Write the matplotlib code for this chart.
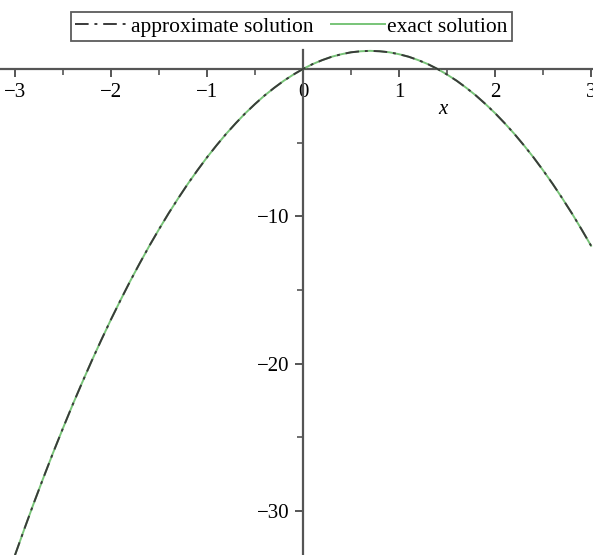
import matplotlib
matplotlib.use("Agg")
import matplotlib.pyplot as plt
from matplotlib.ticker import MultipleLocator, FixedLocator

plt.rcParams['font.family'] = ['Liberation Serif', 'DejaVu Serif']

# values
x_vals = [-3.0, -2.9, -2.8, -2.7, -2.6, -2.5, -2.4, -2.3, -2.2, -2.1,
          -2.0, -1.9, -1.8, -1.7, -1.6, -1.5, -1.4, -1.3, -1.2, -1.1,
          -1.0, -0.9, -0.8, -0.7, -0.6, -0.5, -0.4, -0.3, -0.2, -0.1,
          0.0, 0.1, 0.2, 0.3, 0.4, 0.5, 0.6, 0.7, 0.8, 0.9,
          1.0, 1.1, 1.2, 1.3, 1.4, 1.5, 1.6, 1.7, 1.8, 1.9,
          2.0, 2.1, 2.2, 2.3, 2.4, 2.5, 2.6, 2.7, 2.8, 2.9, 3.0]
y_exact = [-33.0, -31.18, -29.4, -27.68, -26.0, -24.38, -22.8, -21.28, -19.8, -18.38,
           -17.0, -15.68, -14.4, -13.18, -12.0, -10.88, -9.8, -8.78, -7.8, -6.88,
           -6.0, -5.18, -4.4, -3.68, -3.0, -2.38, -1.8, -1.28, -0.8, -0.38,
           0.0, 0.33, 0.6, 0.83, 1.0, 1.13, 1.2, 1.23, 1.2, 1.13,
           1.0, 0.83, 0.6, 0.33, 0.0, -0.38, -0.8, -1.28, -1.8, -2.38,
           -3.0, -3.68, -4.4, -5.18, -6.0, -6.88, -7.8, -8.78, -9.8, -10.88, -12.0]
y_approx = [-33.0, -31.18, -29.4, -27.68, -26.0, -24.38, -22.8, -21.28, -19.8, -18.38,
            -17.0, -15.68, -14.4, -13.18, -12.0, -10.88, -9.8, -8.78, -7.8, -6.88,
            -6.0, -5.18, -4.4, -3.68, -3.0, -2.38, -1.8, -1.28, -0.8, -0.38,
            0.0, 0.33, 0.6, 0.83, 1.0, 1.13, 1.2, 1.23, 1.2, 1.13,
            1.0, 0.83, 0.6, 0.33, 0.0, -0.38, -0.8, -1.28, -1.8, -2.38,
            -3.0, -3.68, -4.4, -5.18, -6.0, -6.88, -7.8, -8.78, -9.8, -10.88, -12.0]
x_ticks = [-3, -2, -1, 0, 1, 2, 3]
y_ticks = [-30, -20, -10]

fig = plt.figure(figsize=(5.93, 5.55), dpi=100)
ax = fig.add_axes([0, 0, 1, 1])

l2, = ax.plot(x_vals, y_exact, color='#78c478', lw=1.4, label='exact solution', zorder=3)
l1, = ax.plot(x_vals, y_approx, color='#3a3a3a', lw=1.4, ls=(0, (7, 3, 1.5, 3)),
              label='approximate solution', zorder=4)

ax.set_xlim(-3.156, 3.02)
ax.set_ylim(-32.99, 4.68)

for s in ['top', 'right']:
    ax.spines[s].set_visible(False)
for s in ['left', 'bottom']:
    ax.spines[s].set_position(('data', 0))
    ax.spines[s].set_color('#555555')
    ax.spines[s].set_linewidth(1.6)
ax.spines['left'].set_bounds(-33, 1.3)

ax.xaxis.set_major_locator(FixedLocator(x_ticks))
ax.xaxis.set_minor_locator(MultipleLocator(0.5))
ax.yaxis.set_major_locator(FixedLocator(y_ticks))
ax.yaxis.set_minor_locator(MultipleLocator(5))
ax.tick_params(axis='both', which='major', direction='out', length=6, width=1.4,
               color='#555555', labelsize=15, pad=4)
ax.tick_params(axis='both', which='minor', direction='out', length=4, width=1.2, color='#555555')
ax.set_xticklabels([str(v) if v >= 0 else '\u2212' + str(-v) for v in x_ticks])
ax.set_yticklabels(['\u2212' + str(-v) for v in y_ticks])

ax.text(1.458, -2.78, 'x', fontsize=15, style='italic', ha='center', va='center')

fig.legend(handles=[l1, l2], loc='center', bbox_to_anchor=(0.4916, 0.952), ncol=2,
           fontsize=15.5, frameon=True, fancybox=False, edgecolor='#333333',
           handlelength=2.5, handletextpad=0.1, columnspacing=0.8, borderpad=0.2,
           borderaxespad=0)
fig.legends[0].get_frame().set_linewidth(1.3)

fig.savefig('out.png', dpi=100)
